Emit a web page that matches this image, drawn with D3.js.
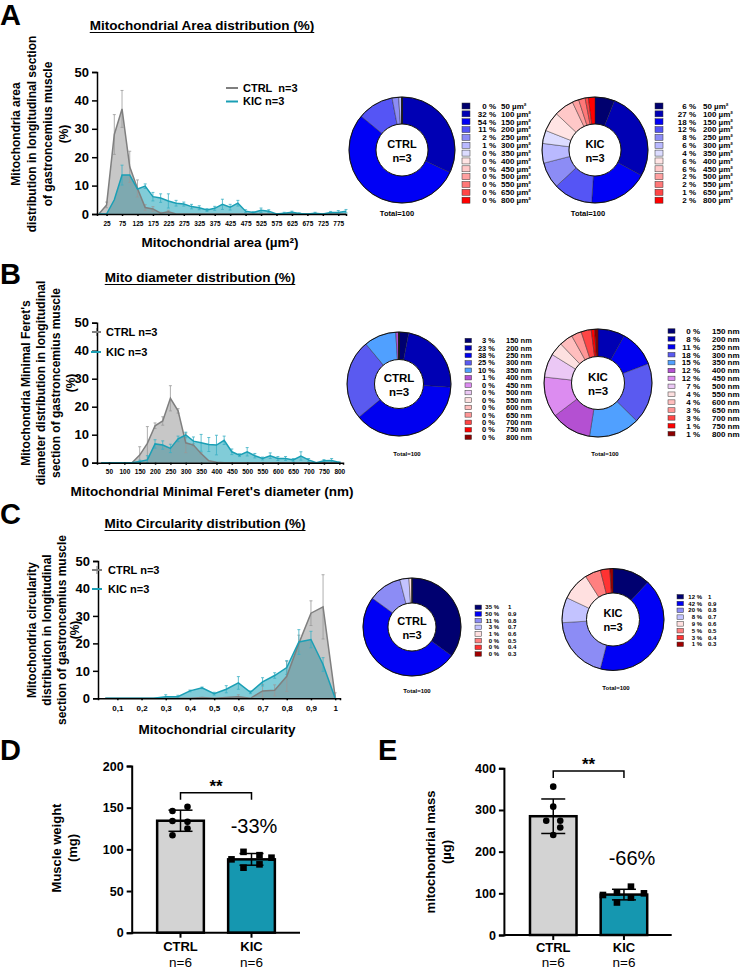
<!DOCTYPE html>
<html>
<head>
<meta charset="utf-8">
<script src="https://cdn.jsdelivr.net/npm/d3@7"></script>
<style>
  body { margin: 0; background: #fff; }
  svg { display: block; font-family: "Liberation Sans", Arial, sans-serif; }
</style>
</head>
<body>
<script>
// ---------- data ----------
// A: mitochondrial area distribution (%)
const areaBins = [0,25,50,75,100,125,150,175,200,225,250,275,300,325,350,375,400,425,450,475,500,525,550,575,600,625,650,675,700,725,750,775,800];
const areaCtrl = [0,3.2,28,37,16.6,9,2.3,1.8,0.3,0.8,0,0,0,0,0,0,0,0,0,0,0,0,0,0,0,0,0,0,0,0,0,0,0];
const areaCtrlErr = [0,1,7,6.5,5.5,3,1,0.8,0.3,0.5,0,0,0,0,0,0,0,0,0,0,0,0,0,0,0,0,0,0,0,0,0,0,0];
const areaKic = [0,0,5,13.7,13.7,8.8,9.8,6.1,5.6,4.6,3.8,3.5,2.6,2.2,1.4,2,3.4,2.4,3.8,1,0.5,1.3,1,0,0.3,0.6,0.2,0,0.3,0,0.5,0.5,1];
const areaKicErr = [0,0,0,3.5,0,0,0.8,1.5,1.5,2.5,1,0.7,0.8,0.7,0.5,0.7,1.8,1,1,0.5,0.3,0.8,0.5,0,0.3,0.4,0.2,0,0.3,0,0.4,0.7,0.6];
const areaTicks = [25,75,125,175,225,275,325,375,425,475,525,575,625,675,725,775];

const areaPieLabels = ["50 µm²","100 µm²","150 µm²","200 µm²","250 µm²","300 µm²","350 µm²","400 µm²","450 µm²","500 µm²","550 µm²","650 µm²","800 µm²"];
const areaPieCtrl = [0,32,54,11,2,1,0,0,0,0,0,0,0];
const areaPieKic = [6,27,18,12,8,6,4,6,6,2,2,1,2];

// B: minimal Feret's diameter distribution (%)
const diamBins = [25,50,75,100,125,150,175,200,225,250,275,300,325,350,375,400,425,450,475,500,525,550,575,600,625,650,675,700,725,750,775,800];
const diamCtrl = [0,0,0,0,0,2.7,6.9,13.2,14.9,23,18.5,7.1,6.3,3.3,0.7,0.2,0,0,0,0,0,0,0,0,0,0,0,0,0,0,0,0];
const diamCtrlErr = [0,0,0,0,0,3,6,1,1.5,4.5,0.8,3.5,0.5,0.3,0,0,0,0,0,0,0,0,0,0,0,0,0,0,0,0,0,0];
const diamKic = [0,0,0,0,0,0.4,1,6.7,6.3,5.1,8.5,9.9,7.7,7.1,6.5,6.3,8,3.9,2.7,3.9,2.5,1.5,2.5,1.5,1.5,1,2.4,1,0,0.7,0.8,0.1];
const diamKicErr = [0,0,0,0,0,0.5,1.5,1.5,1.5,1.5,1,1,1.5,3,2.5,3.5,1.5,1,0.5,1.5,0.8,0.5,1,0.7,0.7,0.5,1.5,0.5,0,0.4,0.7,0.2];
const diamTicks = [50,100,150,200,250,300,350,400,450,500,550,600,650,700,750,800];

const diamPieLabels = ["150 nm","200 nm","250 nm","300 nm","350 nm","400 nm","450 nm","500 nm","550 nm","600 nm","650 nm","700 nm","750 nm","800 nm"];
const diamPieCtrl = [3,23,38,25,10,1,0,0,0,0,0,0,0,0];
const diamPieKic = [0,8,11,18,15,12,12,7,4,4,3,3,1,1];

// C: circularity distribution (%)
const circBins = [0.05,0.1,0.15,0.2,0.25,0.3,0.35,0.4,0.45,0.5,0.55,0.6,0.65,0.7,0.75,0.8,0.85,0.9,0.95,1.0];
const circCtrl = [0,0,0,0,0,0,0,0,0.3,0,0.3,0.6,0,2.7,2.9,8,20,31,33.3,0.5];
const circCtrlErr = [0,0,0,0,0,0,0,0,0,0,0,0.7,0,2.3,2,5.5,3,4.5,11.7,1.5];
const circKic = [0,0,0,0,0,0.6,0.6,2.7,3.8,1.7,3.3,5.6,2.2,6,8.3,11.2,20.5,21.4,12.3,0];
const circKicErr = [0,0,0,0,0,0.7,0.5,0.3,0.3,0.5,1.3,2.3,0.5,1.5,1,2.5,4.5,3,2.5,0];
const circTicks = [0.1,0.2,0.3,0.4,0.5,0.6,0.7,0.8,0.9,1];
const circTickLabels = ["0,1","0,2","0,3","0,4","0,5","0,6","0,7","0,8","0,9","1"];

const circPieLabels = ["1","0.9","0.8","0.7","0.6","0.5","0.4","0.3"];
const circPieCtrl = [35,50,11,3,1,0,0,0];
const circPieKic = [12,42,20,8,9,5,3,1];

const distTicks = [0,10,20,30,40,50];

// D, E: individual animals
const groups = ["CTRL","KIC"];
const weightCtrl = [151,146,134,133,125,117];
const weightKic = [97,93,90,88,82,78];
const massCtrl = [356,308,274,274,258,240];
const massKic = [116,96,102,100,78,90];
const weightTicks = [0,50,100,150,200];
const massTicks = [0,100,200,300,400];

// ---------- colours ----------
const grayLine = "#7f7f7f", tealLine = "#1a9fb5";
const areaColors = ["#00006e","#0000b4","#0000f5","#5555f5","#8c8cf5","#b9b9ff","#dcdcff","#ffe4e4","#ffc8c8","#ffa0a0","#ff7878","#ff4646","#ff0000"];
const diamColors = ["#000070","#0000b4","#0000f0","#5a5af0","#50a0ff","#b450d2","#dc8cf0","#ebc8f5","#fde0e0","#ffbebe","#ff9696","#ff4646","#ff0000","#8c0000"];
const circColors = ["#000070","#0000f5","#8c8cf5","#c3c3ff","#ffe0e0","#ff8080","#ff3232","#a00000"];

const svg = d3.select("body").append("svg")
  .attr("width", 741).attr("height", 971);
svg.append("rect").attr("width", 741).attr("height", 971).attr("fill", "#fff");

function letter(t, x, y) {
  svg.append("text").attr("x", x).attr("y", y)
    .attr("font-size", 29).attr("font-weight", "bold").text(t);
}

function title(t, cx, y) {
  const el = svg.append("text").attr("x", cx).attr("y", y)
    .attr("text-anchor", "middle").attr("font-size", 13.5).attr("font-weight", "bold").text(t);
  const w = el.node().getComputedTextLength();
  svg.append("line").attr("x1", cx - w / 2).attr("x2", cx + w / 2)
    .attr("y1", y + 2.5).attr("y2", y + 2.5).attr("stroke", "#000").attr("stroke-width", 1.2);
}

function yLabel(lines, xs, cy, size) {
  lines.forEach((l, i) => {
    svg.append("text")
      .attr("transform", `translate(${xs[i]},${cy}) rotate(-90)`)
      .attr("text-anchor", "middle").attr("dy", "0.35em")
      .attr("font-size", size).attr("font-weight", "bold").text(l);
  });
}

function distPanel(o) {
  const x = d3.scaleLinear().domain(o.xDomain).range(o.xRange);
  const y = d3.scaleLinear().domain([0, 50]).range(o.yRange);
  const g = svg.append("g");
  const area = d3.area().x((d, i) => x(o.bins[i])).y0(y(0)).y1(d => y(d));
  const line = d3.line().x((d, i) => x(o.bins[i])).y(d => y(d));

  g.append("path").datum(o.kic).attr("d", area).attr("fill", "#1aa3b8").attr("fill-opacity", 0.55);
  g.append("path").datum(o.ctrl).attr("d", area).attr("fill", "#7a7a7a").attr("fill-opacity", 0.42);

  const errs = (vals, err, col) => {
    vals.forEach((v, i) => {
      if (!err[i]) return;
      const xx = x(o.bins[i]);
      const y1 = y(Math.max(0, v - err[i])), y2 = y(v + err[i]);
      g.append("line").attr("x1", xx).attr("x2", xx).attr("y1", y1).attr("y2", y2)
        .attr("stroke", col).attr("stroke-width", 0.8);
      [y1, y2].forEach(yy => g.append("line").attr("x1", xx - 1.5).attr("x2", xx + 1.5)
        .attr("y1", yy).attr("y2", yy).attr("stroke", col).attr("stroke-width", 0.8));
    });
  };
  errs(o.ctrl, o.ctrlErr, "#999");
  errs(o.kic, o.kicErr, "#3ab0c4");

  g.append("path").datum(o.ctrl).attr("d", line).attr("fill", "none")
    .attr("stroke", grayLine).attr("stroke-width", 1.5);
  g.append("path").datum(o.kic).attr("d", line).attr("fill", "none")
    .attr("stroke", tealLine).attr("stroke-width", 1.5);

  const ya = g.append("g").attr("transform", `translate(${o.xRange[0]},0)`)
    .call(d3.axisLeft(y).tickValues(distTicks).tickSize(5).tickPadding(3));
  ya.selectAll("text").attr("font-size", 13).attr("font-weight", "bold").attr("fill", "#000")
    .attr("font-family", "Liberation Sans, Arial, sans-serif");
  ya.selectAll("path,line").attr("stroke", "#000").attr("stroke-width", 1.5);

  const xa = g.append("g").attr("transform", `translate(0,${y(0)})`)
    .call(d3.axisBottom(x).tickValues(o.ticks).tickSize(2).tickPadding(5)
      .tickFormat((d, i) => o.tickLabels ? o.tickLabels[i] : d));
  xa.selectAll("text").attr("font-size", o.tickFont).attr("font-weight", "bold").attr("fill", "#000")
    .attr("font-family", "Liberation Sans, Arial, sans-serif");
  xa.selectAll("path,line").attr("stroke", "#000").attr("stroke-width", 1.5);

  svg.append("text").attr("x", o.xLabelPos[0]).attr("y", o.xLabelPos[1])
    .attr("text-anchor", "middle").attr("font-size", 13.5).attr("font-weight", "bold").text(o.xLabel);

  // legend
  o.legend.forEach((it, i) => {
    const ly = it.y;
    g.append("line").attr("x1", it.x1).attr("x2", it.x2).attr("y1", ly).attr("y2", ly)
      .attr("stroke", i === 0 ? grayLine : tealLine).attr("stroke-width", 2);
    if (i === 0 && o.legendTick) {
      const mx = (it.x1 + it.x2) / 2;
      g.append("line").attr("x1", mx).attr("x2", mx).attr("y1", ly - 4).attr("y2", ly + 4)
        .attr("stroke", grayLine).attr("stroke-width", 1);
    }
    g.append("text").attr("x", it.tx).attr("y", ly).attr("dy", "0.35em")
      .style("white-space", "pre")
      .attr("font-size", 11).attr("font-weight", "bold").text(it.t);
  });
}

function donut(o) {
  const g = svg.append("g").attr("transform", `translate(${o.cx},${o.cy})`);
  const pie = d3.pie().sort(null)(o.values);
  const arc = d3.arc().innerRadius(o.r0).outerRadius(o.r);
  g.selectAll("path").data(pie).enter().append("path")
    .attr("d", arc).attr("fill", (d, i) => o.colors[i])
    .attr("stroke", "#222").attr("stroke-width", 0.4);
  g.append("circle").attr("r", o.r).attr("fill", "none").attr("stroke", "#111").attr("stroke-width", 1);
  g.append("circle").attr("r", o.r0).attr("fill", "#fff").attr("stroke", "#111").attr("stroke-width", 1);
  g.append("text").attr("y", -6).attr("dy", "0.35em").attr("text-anchor", "middle")
    .attr("font-size", o.cf).attr("font-weight", "bold").text(o.name);
  g.append("text").attr("y", 8).attr("dy", "0.35em").attr("text-anchor", "middle")
    .attr("font-size", o.cf).attr("font-weight", "bold").text("n=3");
  svg.append("text").attr("x", o.tot[0]).attr("y", o.tot[1]).attr("text-anchor", "middle")
    .attr("font-size", o.tf).attr("font-weight", "bold").text("Total=100");

  // legend
  const L = o.leg;
  o.values.forEach((v, i) => {
    const yy = L.y + i * L.dy;
    svg.append("rect").attr("x", L.sx).attr("y", yy - L.sh / 2).attr("width", L.sw).attr("height", L.sh)
      .attr("fill", o.colors[i]).attr("stroke", "#333").attr("stroke-width", 0.5);
    svg.append("text").attr("x", L.px).attr("y", yy).attr("dy", "0.35em").attr("text-anchor", "end")
      .attr("font-size", L.f).attr("font-weight", "bold").text(`${v} %`);
    svg.append("text").attr("x", L.lx).attr("y", yy).attr("dy", "0.35em")
      .attr("font-size", L.f).attr("font-weight", "bold").text(o.labels[i]);
  });
}

function barPanel(o) {
  const x = d3.scaleBand().domain(groups).range(o.xr).paddingInner(0.342).paddingOuter(0.171);
  const y = d3.scaleLinear().domain(o.yDomain).range(o.yRange);
  const g = svg.append("g");
  const sets = [o.ctrl, o.kic];
  const fills = ["#d3d3d3", "#1597b0"];
  sets.forEach((vals, k) => {
    const m = d3.mean(vals), sd = d3.deviation(vals);
    const x0 = x(groups[k]), cx = x0 + x.bandwidth() / 2;
    g.append("rect").attr("x", x0).attr("width", x.bandwidth())
      .attr("y", y(m)).attr("height", y(0) - y(m))
      .attr("fill", fills[k]).attr("stroke", "#000").attr("stroke-width", 2.5);
    const jit = o.jitter[k];
    vals.forEach((v, i) => {
      if (k === 0) {
        g.append("circle").attr("cx", cx + jit[i]).attr("cy", y(v)).attr("r", 3.3).attr("fill", "#000");
      } else {
        g.append("rect").attr("x", cx + jit[i] - 3.3).attr("y", y(v) - 3.3)
          .attr("width", 6.6).attr("height", 6.6).attr("fill", "#000");
      }
    });
    g.append("line").attr("x1", cx).attr("x2", cx).attr("y1", y(m - sd)).attr("y2", y(m + sd))
      .attr("stroke", "#000").attr("stroke-width", 1.5);
    [m - sd, m + sd].forEach(v => g.append("line").attr("x1", cx - 12).attr("x2", cx + 12)
      .attr("y1", y(v)).attr("y2", y(v)).attr("stroke", "#000").attr("stroke-width", 1.5));
  });

  const ya = g.append("g").attr("transform", `translate(${o.xr[0] - o.axisGap},0)`)
    .call(d3.axisLeft(y).tickValues(o.ticks).tickSize(5).tickPadding(3));
  ya.selectAll("text").attr("font-size", 12.5).attr("font-weight", "bold").attr("fill", "#000")
    .attr("font-family", "Liberation Sans, Arial, sans-serif");
  ya.selectAll("path,line").attr("stroke", "#000").attr("stroke-width", 2);

  const xa = g.append("g").attr("transform", `translate(0,${y(0)})`)
    .call(d3.axisBottom(x).tickSize(5).tickFormat(""));
  xa.select("path").attr("d", `M${o.xr[0] - o.axisGap},0H${o.xEnd}`);
  xa.selectAll("path,line").attr("stroke", "#000").attr("stroke-width", 2);

  groups.forEach(gname => {
    const cx = x(gname) + x.bandwidth() / 2;
    svg.append("text").attr("x", cx).attr("y", o.catY[0]).attr("text-anchor", "middle")
      .attr("font-size", 13).attr("font-weight", "bold").text(gname);
    svg.append("text").attr("x", cx).attr("y", o.catY[1]).attr("text-anchor", "middle")
      .attr("font-size", o.nFont).text("n=6");
  });

  // significance
  const c0 = x("CTRL") + x.bandwidth() / 2, c1 = x("KIC") + x.bandwidth() / 2;
  g.append("path").attr("d", `M${c0},${o.sigY + 7}V${o.sigY}H${c1}V${o.sigY + 7}`)
    .attr("fill", "none").attr("stroke", "#000").attr("stroke-width", 1.5);
  svg.append("text").attr("x", (c0 + c1) / 2).attr("y", o.sigY - 1).attr("text-anchor", "middle")
    .attr("font-size", 17).attr("font-weight", "bold").text("**");
  svg.append("text").attr("x", o.pct[0]).attr("y", o.pct[1]).attr("text-anchor", "middle")
    .attr("font-size", 20).text(o.pctText);
}

// ---------- panel A ----------
letter("A", 0, 25);
title("Mitochondrial Area distribution (%)", 202, 30);
yLabel(["Mitochondria area", "distribution in longitudinal section", "of gastroncemius muscle", "(%)"],
  [16, 32, 47.5, 64], 134, 12);
distPanel({
  bins: areaBins, ctrl: areaCtrl, ctrlErr: areaCtrlErr, kic: areaKic, kicErr: areaKicErr,
  xDomain: [-6, 800], xRange: [97, 346], yRange: [214, 72],
  ticks: areaTicks, tickFont: 6.5,
  xLabel: "Mitochondrial area (µm²)", xLabelPos: [220, 247],
  legend: [{ x1: 226, x2: 238, y: 88, tx: 243, t: "CTRL  n=3" }, { x1: 226, x2: 238, y: 101.5, tx: 243, t: "KIC n=3" }],
  legendTick: false
});
donut({ cx: 402, cy: 150, r: 53, r0: 26, values: areaPieCtrl, colors: areaColors, name: "CTRL", cf: 11,
  tot: [397, 216], tf: 7.5, labels: areaPieLabels,
  leg: { sx: 462, y: 106, dy: 7.85, sw: 8, sh: 6, px: 496, lx: 501, f: 8 } });
donut({ cx: 595, cy: 150, r: 53, r0: 26, values: areaPieKic, colors: areaColors, name: "KIC", cf: 11,
  tot: [588, 216], tf: 7.5, labels: areaPieLabels,
  leg: { sx: 655, y: 106, dy: 7.85, sw: 8, sh: 6, px: 696, lx: 703, f: 8 } });

// ---------- panel B ----------
letter("B", 0, 284);
title("Mito diameter distribution (%)", 200, 282);
yLabel(["Mitochondria Minimal Feret's", "diameter distribution in longitudinal", "section of gastroncemius muscle", "(%)"],
  [26, 41, 56, 71], 383, 12);
distPanel({
  bins: diamBins, ctrl: diamCtrl, ctrlErr: diamCtrlErr, kic: diamKic, kicErr: diamKicErr,
  xDomain: [11, 812], xRange: [97, 343], yRange: [462.7, 322.7],
  ticks: diamTicks, tickFont: 6.5,
  xLabel: "Mitochondrial Minimal Feret's diameter (nm)", xLabelPos: [212, 496],
  legend: [{ x1: 92, x2: 101, y: 332, tx: 106, t: "CTRL n=3" }, { x1: 91, x2: 101, y: 352, tx: 106, t: "KIC n=3" }],
  legendTick: true
});
donut({ cx: 399, cy: 384, r: 52, r0: 24.5, values: diamPieCtrl, colors: diamColors, name: "CTRL", cf: 11.5,
  tot: [407, 456], tf: 6, labels: diamPieLabels,
  leg: { sx: 465, y: 340.5, dy: 7.44, sw: 6.5, sh: 4.5, px: 495, lx: 506, f: 7.5 } });
donut({ cx: 598, cy: 383, r: 54, r0: 26.5, values: diamPieKic, colors: diamColors, name: "KIC", cf: 11.5,
  tot: [605, 456], tf: 6, labels: diamPieLabels,
  leg: { sx: 668, y: 331, dy: 7.9, sw: 7, sh: 4.5, px: 700, lx: 712, f: 8 } });

// ---------- panel C ----------
letter("C", 0, 524);
title("Mito Circularity distribution (%)", 205, 528);
yLabel(["Mitochondria circularity", "distribution in longitudinal", "section of gastroncemius muscle", "(%)"],
  [32, 47, 62, 75], 630, 12);
distPanel({
  bins: circBins, ctrl: circCtrl, ctrlErr: circCtrlErr, kic: circKic, kicErr: circKicErr,
  xDomain: [0.02, 1.02], xRange: [98, 340], yRange: [698.3, 561],
  ticks: circTicks, tickLabels: circTickLabels, tickFont: 8,
  xLabel: "Mitochondrial circularity", xLabelPos: [217, 734],
  legend: [{ x1: 92, x2: 102, y: 570, tx: 108, t: "CTRL n=3" }, { x1: 92, x2: 102, y: 589, tx: 108, t: "KIC n=3" }],
  legendTick: true
});
donut({ cx: 412, cy: 627, r: 49, r0: 24, values: circPieCtrl, colors: circColors, name: "CTRL", cf: 11,
  tot: [417, 693], tf: 6, labels: circPieLabels,
  leg: { sx: 475, y: 607.3, dy: 6.67, sw: 6.5, sh: 4.5, px: 499, lx: 508, f: 6 } });
donut({ cx: 613, cy: 619.5, r: 51, r0: 26.5, values: circPieKic, colors: circColors, name: "KIC", cf: 11,
  tot: [616, 690], tf: 6, labels: circPieLabels,
  leg: { sx: 677, y: 596.7, dy: 6.8, sw: 6.5, sh: 4.5, px: 702, lx: 708, f: 6 } });

// ---------- panel D ----------
letter("D", 0, 760);
yLabel(["Muscle weight", "(mg)"], [56, 72], 848, 13);
barPanel({
  xr: [145, 287], axisGap: 13.3, xEnd: 300, yDomain: [0, 200], yRange: [932.7, 766],
  ticks: weightTicks, ctrl: weightCtrl, kic: weightKic,
  jitter: [[7, -8, -8, 7, 7, -8], [-8, 8, 20, -20, 8, -8]],
  catY: [951, 967], nFont: 13.5, sigY: 792.7, pct: [254, 833], pctText: "-33%"
});

// ---------- panel E ----------
letter("E", 378, 760);
yLabel(["mitochondrial mass", "(µg)"], [430, 446], 852, 13);
barPanel({
  xr: [517.9, 659.3], axisGap: 14, xEnd: 671.7, yDomain: [0, 400], yRange: [935, 768.3],
  ticks: massTicks, ctrl: massCtrl, kic: massKic,
  jitter: [[0, 0, -7, 7, 7, 0], [7, -21, -7, 20, -7, 7]],
  catY: [952, 967], nFont: 13.5, sigY: 771, pct: [632, 865], pctText: "-66%"
});
</script>
</body>
</html>
